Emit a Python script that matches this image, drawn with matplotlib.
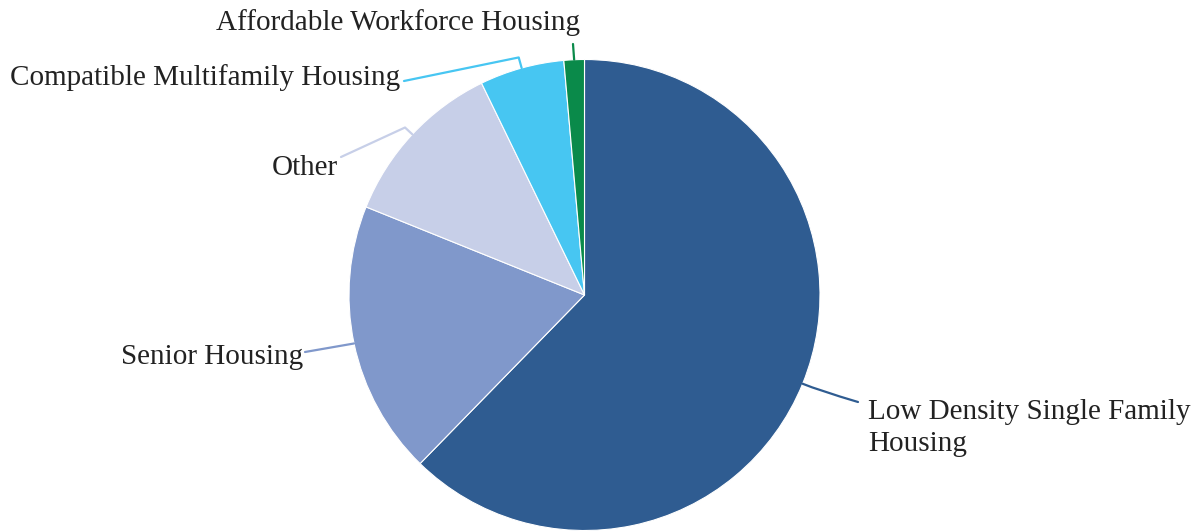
import numpy as np
import matplotlib
matplotlib.use("Agg")
import matplotlib.pyplot as plt
from matplotlib.path import Path
from matplotlib.patches import PathPatch

# Housing type shares (%)
categories = [
    "Low Density Single Family\nHousing",
    "Senior Housing",
    "Other",
    "Compatible Multifamily Housing",
    "Affordable Workforce Housing",
]
shares = [62.3, 18.8, 11.7, 5.8, 1.4]
colors = ["#2f5c91", "#8098cb", "#c7cfe8", "#47c6f2", "#0a8a4a"]

W, H = 1201, 531
fig = plt.figure(figsize=(W / 100, H / 100), dpi=100)
ax = fig.add_axes([0, 0, 1, 1])

cx, cy, R = 584.5, H - 295, 235.5
wedges, _ = ax.pie(shares, colors=colors, startangle=90, counterclock=False,
                   center=(cx, cy), radius=R,
                   wedgeprops=dict(edgecolor="white", linewidth=0.8))
ax.set_xlim(0, W)
ax.set_ylim(0, H)
ax.set_aspect("equal")
ax.axis("off")

# label layout: (text anchor x, y in pixel rows, ha, leader bend length, leader end point)
layout = [
    (868, 428, "left", 18, (858, 402)),
    (303, 357, "right", None, (305, 352)),
    (338, 168, "right", 10, (341, 157)),
    (400, 78, "right", 11, (404, 81)),
    (398, 23, "center", None, (573, 44)),
]

for w, name, col, (tx, ty, ha, ext, end) in zip(wedges, categories, colors, layout):
    mid = np.deg2rad((w.theta1 + w.theta2) / 2)
    x0, y0 = cx + R * np.cos(mid), cy + R * np.sin(mid)
    ex, ey = end[0], H - end[1]
    if ext is None:
        verts = [(x0, y0), (ex, ey)]
        codes = [Path.MOVETO, Path.LINETO]
    else:
        mx, my = x0 + ext * np.cos(mid), y0 + ext * np.sin(mid)
        verts = [(x0, y0), (mx, my), (ex, ey)]
        codes = [Path.MOVETO, Path.CURVE3, Path.CURVE3] if ha == "left" else \
                [Path.MOVETO, Path.LINETO, Path.LINETO]
    ax.add_patch(PathPatch(Path(verts, codes), fill=False, edgecolor=col,
                           linewidth=1.6, capstyle="round", joinstyle="round"))
    ax.text(tx, H - ty, name, ha=ha, va="center", fontsize=21,
            family="Liberation Serif", color="#222222", linespacing=1.3)

fig.savefig("out.png", dpi=100)
